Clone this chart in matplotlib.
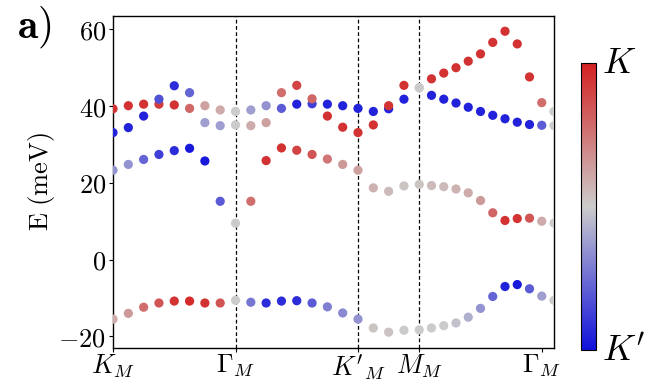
import numpy as np
import matplotlib
matplotlib.use("Agg")
import matplotlib.pyplot as plt
from matplotlib.colors import LinearSegmentedColormap, Normalize
from matplotlib.cm import ScalarMappable

plt.rcParams['mathtext.fontset'] = 'cm'
plt.rcParams['font.family'] = ['DejaVu Serif']

# k-path positions (K_M -> Gamma_M -> K'_M -> M_M -> Gamma_M)
k_path = list(range(0, 21)) + [20.8, 21.6, 22.4, 23.2, 24.0, 24.8, 25.6, 26.4, 27.2, 28.0, 28.8]

band1_E = [39.3, 40.1, 40.5, 40.5, 40.3, 39.4, 40.1, 39.0, 38.6,
           39.0, 40.1, 39.4, 40.5, 40.6, 40.5, 40.1, 39.4,
           38.6, 39.3, 41.8, 44.8,
           42.8, 41.8, 40.8, 39.7, 38.6, 37.6, 36.7, 35.8, 35.2, 35.0, 34.9]
band1_v = [0.9, 0.9, 0.9, 0.85, 0.9, 0.6, 0.25, 0.2, 0.0,
           -0.25, -0.3, -0.6, -0.9, -0.75, -0.9, -0.9, -0.9,
           -0.9, -0.9, -0.9, 0.0,
           -0.9, -0.9, -0.9, -0.9, -0.9, -0.9, -0.9, -0.9, -0.9, -0.6, 0.0]

band2_E = [33.1, 34.4, 37.4, 41.8, 45.3, 43.5, 35.7, 34.9, 35.1,
           34.9, 35.7, 43.5, 45.4, 41.9, 37.4, 34.5, 33.1,
           35.1, 40.1, 45.4, 44.8,
           47.1, 48.6, 50.0, 51.7, 53.6, 56.6, 59.5, 56.2, 47.6, 40.9, 38.6]
band2_v = [-0.9, -0.9, -0.9, -0.65, -0.85, -0.55, -0.25, -0.25, 0.0,
           0.2, 0.25, 0.55, 0.8, 0.6, 0.9, 0.9, 0.9,
           0.9, 0.9, 0.9, 0.0,
           0.9, 0.9, 0.9, 0.9, 0.9, 0.9, 0.9, 0.9, 0.9, 0.55, 0.0]

band3_E = [23.3, 24.8, 26.1, 27.4, 28.4, 29.0, 25.7, 15.2, 9.5,
           15.2, 25.8, 29.1, 28.5, 27.4, 26.2, 24.8, 23.3,
           18.7, 17.8, 19.2, 19.6,
           19.3, 19.0, 18.4, 17.4, 15.4, 12.2, 10.2, 10.7, 10.8, 10.0, 9.5]
band3_v = [-0.3, -0.3, -0.55, -0.75, -0.85, -0.95, -0.95, -0.6, 0.0,
           0.55, 0.9, 0.9, 0.8, 0.7, 0.5, 0.3, 0.25,
           0.15, 0.1, 0.05, 0.05,
           0.1, 0.1, 0.15, 0.2, 0.3, 0.6, 0.9, 0.9, 0.7, 0.2, 0.0]

band4_E = [-15.5, -14.0, -12.4, -11.3, -10.8, -10.8, -11.3, -11.3, -10.6,
           -11.1, -11.3, -10.8, -10.7, -11.3, -12.3, -13.9, -15.5,
           -17.8, -18.9, -18.4, -18.3,
           -17.8, -17.2, -16.5, -15.0, -12.7, -9.6, -7.0, -6.5, -7.6, -9.5, -10.6]
band4_v = [0.2, 0.3, 0.55, 0.7, 0.9, 0.95, 0.9, 0.7, 0.0,
           -0.45, -0.85, -0.85, -0.85, -0.6, -0.4, -0.35, -0.3,
           0.05, 0.05, 0.0, 0.0,
           0.0, 0.0, -0.05, -0.15, -0.3, -0.55, -0.9, -0.95, -0.6, -0.25, 0.0]

tick_pos = [0, 8, 16, 20, 28]
tick_labels = [r'$K_M$', r'$\Gamma_M$', r"$K'_M$", r'$M_M$', r'$\Gamma_M$']
vlines = [8, 16, 20]
y_ticks = [-20, 0, 20, 40, 60]
y_ticklabels = [r'${-}20$', r'$0$', r'$20$', r'$40$', r'$60$']

cmap = LinearSegmentedColormap.from_list('kv', ['#1010dc', '#cccccc', '#d42222'])
norm = Normalize(-1, 1)

fig = plt.figure(figsize=(6.51, 3.84), dpi=100)
ax = fig.add_axes([0.1736, 0.094, 0.6774, 0.8646])

for E, v in [(band3_E, band3_v), (band4_E, band4_v), (band1_E, band1_v), (band2_E, band2_v)]:
    ax.scatter(k_path, E, c=v, cmap=cmap, norm=norm, s=44, edgecolors='none', zorder=3)

for xv in vlines:
    ax.axvline(xv, color='k', lw=0.9, ls=(0, (3, 2)), zorder=1)

ax.set_xlim(0, 28.8)
ax.set_ylim(-23, 63.5)
ax.set_xticks(tick_pos)
ax.set_xticklabels(tick_labels, fontsize=19)
ax.set_yticks(y_ticks)
ax.set_yticklabels(y_ticklabels, fontsize=19)
ax.tick_params(axis='both', length=3, width=0.8, pad=2)
ax.tick_params(axis='x', pad=0.5)
ax.set_ylabel(r'$\mathrm{E\ (meV)}$', fontsize=19, labelpad=1)
for sp in ax.spines.values():
    sp.set_linewidth(1.0)

cax = fig.add_axes([0.8925, 0.088, 0.023, 0.747])
cb = fig.colorbar(ScalarMappable(norm=norm, cmap=cmap), cax=cax)
cb.set_ticks([])
cb.outline.set_linewidth(0.8)
fig.text(0.925, 0.835, r'$K$', fontsize=26, va='center', ha='left')
fig.text(0.925, 0.085, r"$K'$", fontsize=26, va='center', ha='left')

fig.text(0.026, 0.99, r'$\mathbf{a)}$', fontsize=30, va='top', ha='left')

fig.savefig('out.png', dpi=100)
